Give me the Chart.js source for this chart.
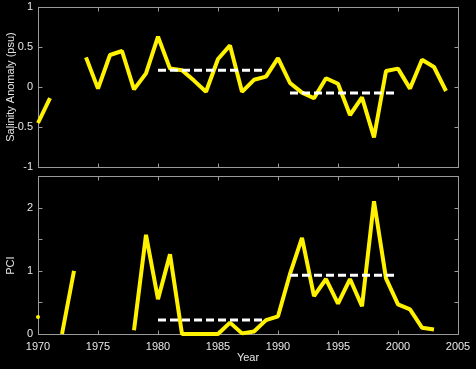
<!DOCTYPE html>
<html><head><meta charset="utf-8">
<script src="https://cdn.jsdelivr.net/npm/chart.js@4"></script>
<style>
html,body{margin:0;padding:0;background:#000;width:476px;height:369px;overflow:hidden}
.c{position:absolute;left:0;top:0;width:476px;height:369px}
</style></head><body>
<div class="c"><canvas id="topChart" width="476" height="369"></canvas></div>
<div class="c"><canvas id="botChart" width="476" height="369"></canvas></div>
<script>
// ---- data ----
const years = [1970,1971,1972,1973,1974,1975,1976,1977,1978,1979,
               1980,1981,1982,1983,1984,1985,1986,1987,1988,1989,
               1990,1991,1992,1993,1994,1995,1996,1997,1998,1999,
               2000,2001,2002,2003,2004];
const salinity = [-0.45,-0.14,null,null,0.37,-0.02,0.40,0.45,-0.03,0.17,
                  0.63,0.23,0.21,0.08,-0.06,0.35,0.52,-0.06,0.09,0.13,
                  0.36,0.05,-0.07,-0.14,0.11,0.04,-0.35,-0.13,-0.63,0.20,
                  0.23,-0.02,0.34,0.25,-0.05];
const pci = [0.27,null,0.0,1.0,null,null,null,null,0.06,1.57,
             0.55,1.26,0,0,0,0,0.18,0.01,0.04,0.22,
             0.28,0.95,1.52,0.60,0.87,0.48,0.87,0.44,2.10,0.88,
             0.47,0.39,0.10,0.07,null];
const periodStart = [1980, 1991];
const periodEnd   = [1989, 2000];
const salinityMeans = [0.21, -0.075];
const pciMeans = [0.22, 0.93];
const xTickLabels = ['1970','1975','1980','1985','1990','1995','2000','2005'];

// ---- styles ----
const FONT = {family: "'Liberation Sans', Arial, Helvetica, sans-serif", size: 11};
const TEXT = '#e6e6e6';
const AXIS = '#9a9a9a';
const YELLOW = '#fff200';

const matlabAxes = {
  id: 'matlabAxes',
  beforeDatasetsDraw(chart) {
    const {ctx, chartArea: a, scales: {x, y}} = chart;
    const L = Math.round(a.left) + 0.5, R = Math.round(a.right) + 0.5;
    const T = Math.round(a.top) + 0.5, B = Math.round(a.bottom) + 0.5;
    ctx.save();
    ctx.strokeStyle = AXIS;
    ctx.lineWidth = 1;
    ctx.strokeRect(L, T, R - L, B - T);
    ctx.beginPath();
    x.ticks.forEach(t => {
      const p = Math.round(x.getPixelForValue(t.value)) + 0.5;
      if (p <= L + 1 || p >= R - 1) return;
      ctx.moveTo(p, B); ctx.lineTo(p, B - 4);
      ctx.moveTo(p, T); ctx.lineTo(p, T + 4);
    });
    y.ticks.forEach(t => {
      const p = Math.round(y.getPixelForValue(t.value)) + 0.5;
      if (p <= T + 1 || p >= B - 1) return;
      ctx.moveTo(L, p); ctx.lineTo(L + 4, p);
      ctx.moveTo(R, p); ctx.lineTo(R - 4, p);
    });
    ctx.stroke();
    ctx.restore();
  }
};

function pts(vals) { return years.map((yr, i) => ({x: yr, y: vals[i]})); }
function meanSets(means) {
  return means.map((m, i) => ({
    data: [{x: periodStart[i], y: m}, {x: periodEnd[i], y: m}],
    borderColor: '#ffffff', borderWidth: 3, borderDash: [8, 4],
    pointRadius: 0, clip: false, order: 0
  }));
}
function isolatedRadius(ctx) {
  const d = ctx.dataset.data, i = ctx.dataIndex;
  if (!d[i] || d[i].y === null) return 0;
  const prev = i > 0 ? d[i-1].y : null, next = i < d.length - 1 ? d[i+1].y : null;
  return (prev === null && next === null) ? 2 : 0;
}

function makeChart(id, vals, means, yMin, yMax, yTitle, padTop, padBottom, showX) {
  return new Chart(document.getElementById(id), {
    type: 'line',
    data: {
      datasets: [{
        data: pts(vals), borderColor: YELLOW, backgroundColor: YELLOW,
        borderWidth: 4, borderJoinStyle: 'bevel', spanGaps: false,
        pointRadius: isolatedRadius, pointBorderWidth: 0, pointHoverRadius: 0,
        tension: 0, clip: false, order: 1
      }, ...meanSets(means)]
    },
    options: {
      responsive: false, animation: false, events: [],
      layout: {padding: {top: padTop, right: 18, bottom: padBottom, left: 0}},
      plugins: {legend: {display: false}, tooltip: {enabled: false}},
      scales: {
        x: {
          type: 'linear', min: 1970, max: 2005,
          grid: {display: false, drawTicks: false}, border: {display: false},
          ticks: {
            display: showX, stepSize: 5, padding: 6, color: TEXT, font: FONT,
            maxRotation: 0, autoSkip: false,
            callback: (v) => xTickLabels.includes(String(v)) ? String(v) : ''
          },
          title: {display: showX, text: 'Year', color: TEXT, font: FONT, padding: {top: 0, bottom: 4}},
          afterFit: (s) => { s.height = showX ? 35 : 0; s.paddingLeft = 0; s.paddingRight = 0; }
        },
        y: {
          min: yMin, max: yMax,
          grid: {display: false, drawTicks: false}, border: {display: false},
          ticks: {
            stepSize: 0.5, padding: 5, color: TEXT, font: FONT,
            callback: showX ? (v) => (Number.isInteger(v) ? String(v) : '') : (v) => String(v)
          },
          title: {display: true, text: yTitle, color: TEXT, font: FONT, padding: {top: 4, bottom: 0}},
          afterFit: (s) => { s.width = 38; s.paddingTop = 0; s.paddingBottom = 0; }
        }
      }
    },
    plugins: [matlabAxes]
  });
}

makeChart('topChart', salinity, salinityMeans, -1, 1, 'Salinity Anomaly (psu)', 7, 202, false);
makeChart('botChart', pci, pciMeans, 0, 2.5, 'PCI       ', 176, 0, true);
</script>
</body></html>
